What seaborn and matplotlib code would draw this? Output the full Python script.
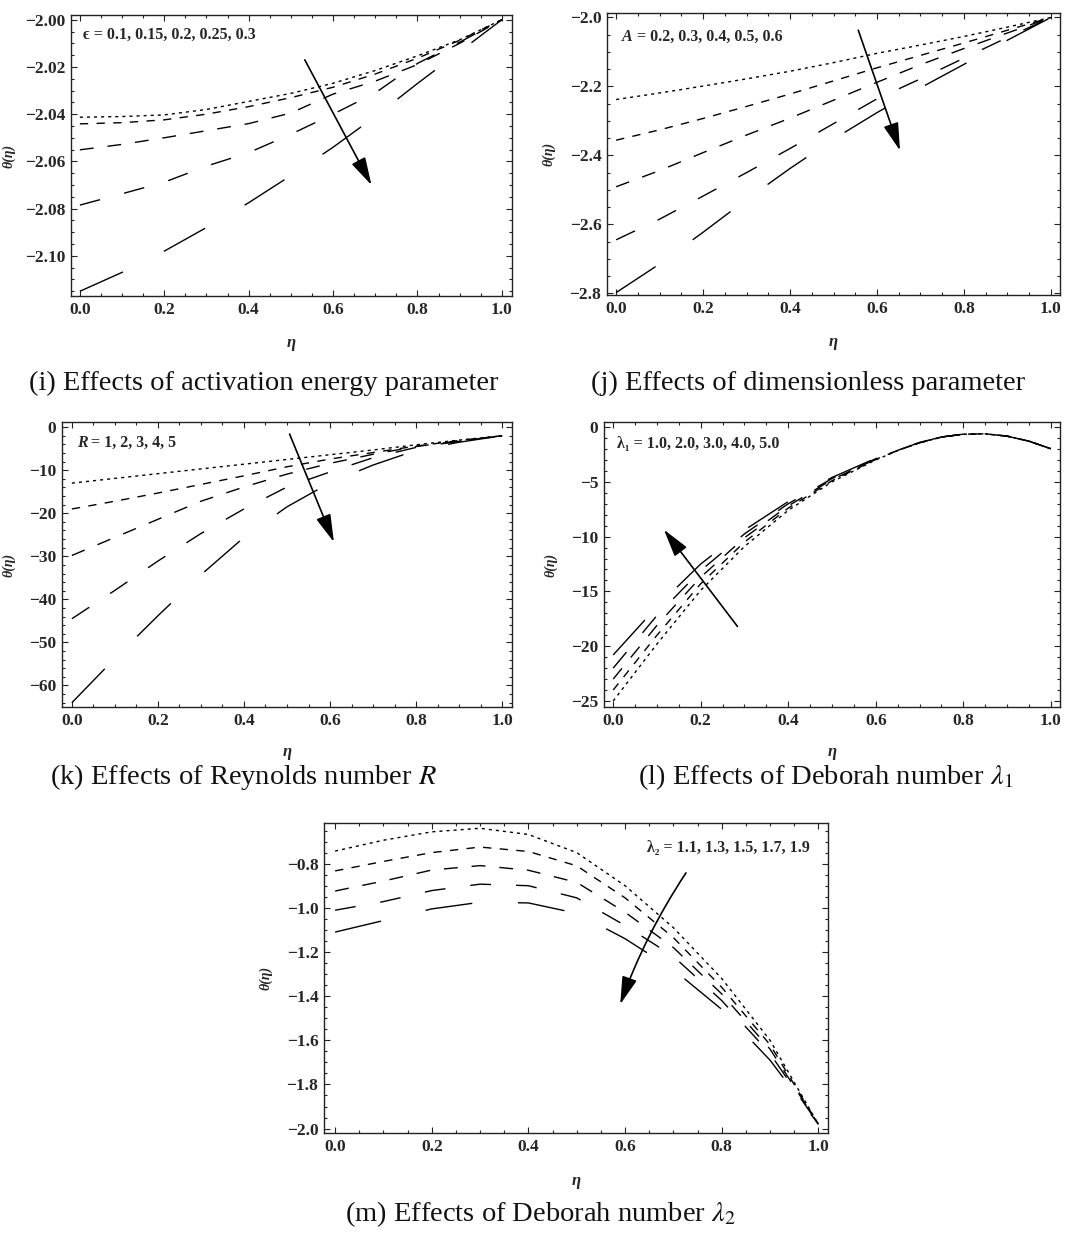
import numpy as np
import pandas as pd
import matplotlib
matplotlib.use("Agg")
import matplotlib.pyplot as plt
from matplotlib.ticker import MultipleLocator, FuncFormatter
import seaborn as sns

# ---------------- data ----------------
eta = [0.0, 0.1, 0.2, 0.3, 0.4, 0.5, 0.6, 0.7, 0.8, 0.9, 1.0]

# (i) activation energy parameter eps = 0.1, 0.15, 0.2, 0.25, 0.3
i_eps1 = [-2.0413, -2.0410, -2.0403, -2.0380, -2.0346, -2.0312, -2.0269, -2.0215, -2.0153, -2.0085, -2.0000]
i_eps2 = [-2.0441, -2.0436, -2.0424, -2.0400, -2.0368, -2.0330, -2.0286, -2.0230, -2.0163, -2.0087, -2.0000]
i_eps3 = [-2.0551, -2.0528, -2.0500, -2.0470, -2.0440, -2.0395, -2.0315, -2.0260, -2.0190, -2.0100, -2.0000]
i_eps4 = [-2.0785, -2.0737, -2.0688, -2.0620, -2.0563, -2.0485, -2.0400, -2.0310, -2.0185, -2.0095, -2.0000]
i_eps5 = [-2.1150, -2.1070, -2.0980, -2.0880, -2.0775, -2.0660, -2.0540, -2.0410, -2.0270, -2.0135, -2.0000]

# (j) dimensionless parameter A = 0.2 ... 0.6
j_A1 = [-2.238, -2.219, -2.199, -2.178, -2.156, -2.131, -2.104, -2.080, -2.055, -2.028, -2.000]
j_A2 = [-2.356, -2.326, -2.293, -2.258, -2.222, -2.184, -2.146, -2.110, -2.074, -2.037, -2.000]
j_A3 = [-2.491, -2.444, -2.392, -2.341, -2.292, -2.240, -2.188, -2.137, -2.090, -2.045, -2.000]
j_A4 = [-2.645, -2.585, -2.518, -2.450, -2.380, -2.308, -2.236, -2.178, -2.118, -2.058, -2.000]
j_A5 = [-2.798, -2.715, -2.623, -2.528, -2.438, -2.353, -2.276, -2.204, -2.136, -2.066, -2.000]

# (k) Reynolds number R = 1 ... 5
k_R1 = [-13.0, -11.9, -10.8, -9.7, -8.6, -7.5, -6.4, -5.3, -4.1, -3.0, -2.0]
k_R2 = [-19.0, -17.2, -15.3, -13.3, -11.3, -9.2, -7.4, -5.9, -4.4, -3.1, -2.0]
k_R3 = [-29.8, -25.6, -21.4, -17.2, -13.9, -10.9, -8.4, -6.3, -4.5, -3.2, -2.0]
k_R4 = [-44.5, -37.9, -31.1, -24.7, -19.0, -13.9, -10.4, -7.1, -4.7, -3.3, -2.0]
k_R5 = [-64.0, -53.7, -43.8, -34.3, -25.6, -18.5, -12.9, -8.8, -5.4, -3.5, -2.0]

# (l) Deborah number lambda1 = 1.0 ... 5.0
eta_l = [0.0, 0.1, 0.2, 0.3, 0.4, 0.5, 0.6, 0.65, 0.7, 0.75, 0.8, 0.85, 0.9, 0.95, 1.0]
l_L1 = [-25.0, -19.8, -14.9, -10.9, -7.60, -5.00, -3.00, -2.15, -1.45, -0.92, -0.66, -0.62, -0.83, -1.29, -1.98]
l_L2 = [-24.0, -19.0, -14.3, -10.5, -7.40, -4.90, -2.96, -2.14, -1.44, -0.92, -0.66, -0.62, -0.83, -1.29, -1.98]
l_L3 = [-23.0, -18.1, -13.7, -10.1, -7.20, -4.80, -2.93, -2.13, -1.43, -0.91, -0.65, -0.62, -0.83, -1.29, -1.98]
l_L4 = [-22.0, -17.2, -13.1, -9.75, -7.00, -4.70, -2.89, -2.12, -1.42, -0.91, -0.65, -0.62, -0.83, -1.29, -1.98]
l_L5 = [-20.8, -16.4, -12.5, -9.40, -6.80, -4.60, -2.85, -2.11, -1.41, -0.91, -0.65, -0.62, -0.83, -1.29, -1.98]

# (m) Deborah number lambda2 = 1.1 ... 1.9
m_L1 = [-0.743, -0.694, -0.656, -0.640, -0.668, -0.750, -0.900, -1.090, -1.320, -1.600, -1.980]
m_L2 = [-0.833, -0.790, -0.750, -0.725, -0.745, -0.810, -0.955, -1.135, -1.360, -1.620, -1.980]
m_L3 = [-0.924, -0.879, -0.829, -0.809, -0.830, -0.885, -1.020, -1.180, -1.390, -1.640, -1.980]
m_L4 = [-1.011, -0.972, -0.922, -0.893, -0.900, -0.955, -1.080, -1.220, -1.420, -1.660, -1.980]
m_L5 = [-1.110, -1.058, -1.005, -0.975, -0.978, -1.025, -1.140, -1.280, -1.460, -1.690, -1.980]

labels_i = "\u03f5 = 0.1, 0.15, 0.2, 0.25, 0.3"
labels_j = " = 0.2, 0.3, 0.4, 0.5, 0.6"
labels_k = " = 1, 2, 3, 4, 5"
labels_l = "\u03bb\u2081 = 1.0, 2.0, 3.0, 4.0, 5.0"
labels_m = "\u03bb\u2082 = 1.1, 1.3, 1.5, 1.7, 1.9"

captions = ["(i) Effects of activation energy parameter",
            "(j) Effects of dimensionless parameter",
            "(k) Effects of Reynolds number $R$",
            r"(l) Effects of Deborah number $\lambda_1$",
            r"(m) Effects of Deborah number $\lambda_2$"]

# ---------------- style ----------------
sns.set_theme(style="ticks")
SERIF = ["Liberation Serif", "DejaVu Serif"]
plt.rcParams["font.family"] = SERIF
plt.rcParams["mathtext.fontset"] = "stix"
plt.rcParams["lines.scale_dashes"] = False
plt.rcParams["axes.unicode_minus"] = True

DASHES = [(2.2, 2.9), (6.0, 6.0), (10.0, 10.0), (15.0, 18.0), (34.0, 33.0)]
W, H = 1072, 1241

fig = plt.figure(figsize=(W / 100, H / 100), dpi=100)
fig.patch.set_facecolor("white")


def make_ax(l, t, r, b):
    return fig.add_axes([l / W, 1 - b / H, (r - l) / W, (b - t) / H])


def fmt(dec):
    return FuncFormatter(lambda v, p: (f"{v:.{dec}f}").replace("-", "\u2212"))


def draw(ax, x, ys, xlim, ylim, ymaj, ymin, ydec, ylab_x, xlab_y):
    names = [f"s{k}" for k in range(len(ys))]
    df = pd.DataFrame({
        "eta": np.tile(np.asarray(x, float), len(ys)),
        "theta": np.concatenate([np.asarray(y, float) for y in ys]),
        "s": np.repeat(names, len(x)),
    })
    sns.lineplot(data=df, x="eta", y="theta", style="s", style_order=names,
                 dashes=DASHES, color="black", linewidth=1.0,
                 estimator=None, sort=False, legend=False, ax=ax)
    ax.set_xlim(*xlim)
    ax.set_ylim(*ylim)
    ax.xaxis.set_major_locator(MultipleLocator(0.2))
    ax.xaxis.set_minor_locator(MultipleLocator(0.05))
    ax.yaxis.set_major_locator(MultipleLocator(ymaj))
    ax.yaxis.set_minor_locator(MultipleLocator(ymin))
    ax.xaxis.set_major_formatter(fmt(1))
    ax.yaxis.set_major_formatter(fmt(ydec))
    ax.tick_params(which="both", direction="in", top=True, right=True,
                   color="#222222", width=0.8)
    ax.tick_params(which="major", length=4.5, labelsize=12.5, pad=4)
    ax.tick_params(which="minor", length=2.3)
    for lab in ax.get_xticklabels() + ax.get_yticklabels():
        lab.set_fontweight("bold")
    for sp in ax.spines.values():
        sp.set_visible(True)
        sp.set_linewidth(1.0)
        sp.set_color("#222222")
    ax.set_facecolor("white")
    ax.grid(False)
    ax.set_xlabel("\u03b7", fontsize=12, fontweight="bold", fontstyle="italic")
    ax.set_ylabel("\u03b8(\u03b7)", fontsize=10, fontweight="bold", fontstyle="italic")
    ax.yaxis.set_label_coords(ylab_x, 0.5)
    ax.xaxis.set_label_coords(0.5, xlab_y)


def arrow(ax, tail, head, rad=0.0):
    ax.annotate("", xy=head, xytext=tail,
                arrowprops=dict(arrowstyle="-|>,head_length=0.95,head_width=0.26",
                                color="black", lw=1.2, mutation_scale=18,
                                shrinkA=0, shrinkB=0,
                                connectionstyle=f"arc3,rad={rad}"))


def split_label(ax, x, y, sym, rest, fs=11.5):
    t = ax.text(x, y, sym, transform=ax.transAxes, fontsize=fs, fontweight="bold",
                fontstyle="italic", va="bottom", ha="left")
    ax.annotate(rest, xy=(1, 0), xycoords=t, fontsize=fs, fontweight="bold",
                va="bottom", ha="left")


# (i)
ax = make_ax(71, 15, 512, 296)
draw(ax, eta, [i_eps1, i_eps2, i_eps3, i_eps4, i_eps5], (-0.021, 1.024), (-2.117, -1.998),
     0.02, 0.005, 2, -0.127, -0.14)
ax.text(0.027, 0.93, labels_i, transform=ax.transAxes, fontsize=11.5, fontweight="bold",
        va="center", ha="left")
arrow(ax, (0.533, -2.017), (0.691, -2.070))

# (j)
ax = make_ax(607, 13, 1060, 295)
draw(ax, eta, [j_A1, j_A2, j_A3, j_A4, j_A5], (-0.021, 1.021), (-2.805, -1.987),
     0.2, 0.05, 1, -0.114, -0.14)
split_label(ax, 0.033, 0.888, "A", labels_j)
arrow(ax, (0.557, -2.037), (0.653, -2.386))

# (k)
ax = make_ax(62, 422, 512, 707)
draw(ax, eta, [k_R1, k_R2, k_R3, k_R4, k_R5], (-0.023, 1.023), (-65.0, 1.2),
     10, 2, 0, -0.104, -0.13)
split_label(ax, 0.033, 0.898, "R", labels_k)
arrow(ax, (0.506, -1.6), (0.609, -26.7))

# (l)
ax = make_ax(604, 422, 1060, 707)
draw(ax, eta_l, [l_L1, l_L2, l_L3, l_L4, l_L5], (-0.021, 1.021), (-25.55, 0.46),
     5, 1, 0, -0.103, -0.13)
ax.text(0.029, 0.924, labels_l, transform=ax.transAxes, fontsize=11.5, fontweight="bold",
        va="center", ha="left")
arrow(ax, (0.284, -18.2), (0.116, -9.37))

# (m)
ax = make_ax(324, 823, 828, 1133)
draw(ax, eta, [m_L1, m_L2, m_L3, m_L4, m_L5], (-0.023, 1.02), (-2.02, -0.616),
     0.2, 0.05, 1, -0.103, -0.13)
ax.text(0.965, 0.918, labels_m, transform=ax.transAxes, fontsize=11.5, fontweight="bold",
        va="center", ha="right")
arrow(ax, (0.726, -0.842), (0.590, -1.437), rad=0.06)

# captions
cap_pos = [(264, 383), (808, 383), (243, 777), (826, 777), (540, 1214)]
for (cx, cy), txt in zip(cap_pos, captions):
    fig.text(cx / W, 1 - cy / H, txt, fontsize=20.5, ha="center", va="center",
             color="#111111")

fig.savefig("out.png", dpi=100, facecolor="white")
